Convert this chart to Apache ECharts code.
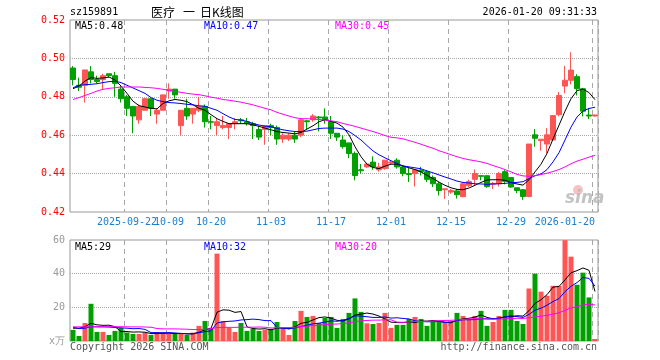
<!DOCTYPE html>
<html><head><meta charset="utf-8">
<script src="https://cdn.jsdelivr.net/npm/echarts@6/dist/echarts.min.js"></script>
<style>html,body{margin:0;padding:0;background:#fff}#c{width:660px;height:360px}</style>
</head><body><div id="c"></div>
<script>
const dates = ['2025-09-09','2025-09-10','2025-09-11','2025-09-12','2025-09-15','2025-09-16','2025-09-17','2025-09-18','2025-09-19','2025-09-22','2025-09-23','2025-09-24','2025-09-25','2025-09-26','2025-09-29','2025-09-30',
'2025-10-09','2025-10-10','2025-10-13','2025-10-14','2025-10-15','2025-10-16','2025-10-17','2025-10-20','2025-10-21','2025-10-22','2025-10-23','2025-10-24','2025-10-27','2025-10-28','2025-10-29','2025-10-30','2025-10-31',
'2025-11-03','2025-11-04','2025-11-05','2025-11-06','2025-11-07','2025-11-10','2025-11-11','2025-11-12','2025-11-13','2025-11-14','2025-11-17','2025-11-18','2025-11-19','2025-11-20','2025-11-21','2025-11-24','2025-11-25','2025-11-26','2025-11-27','2025-11-28',
'2025-12-01','2025-12-02','2025-12-03','2025-12-04','2025-12-05','2025-12-08','2025-12-09','2025-12-10','2025-12-11','2025-12-12','2025-12-15','2025-12-16','2025-12-17','2025-12-18','2025-12-19','2025-12-22','2025-12-23','2025-12-24','2025-12-25','2025-12-26','2025-12-29','2025-12-30','2025-12-31',
'2026-01-05','2026-01-06','2026-01-07','2026-01-08','2026-01-09','2026-01-12','2026-01-13','2026-01-14','2026-01-15','2026-01-16','2026-01-19','2026-01-20'];

const tickDates = ['2025-09-22','2025-10-09','2025-10-20','2025-11-03','2025-11-17','2025-12-01','2025-12-15','2025-12-29','2026-01-20'];
const tickLabels = ['2025-09-22','10-09','10-20','11-03','11-17','12-01','12-15','12-29','2026-01-20'];

const openP = [0.495,0.486,0.486,0.493,0.489,0.489,0.492,0.491,0.484,0.480,0.475,0.468,0.473,0.479,0.471,0.473,
0.483,0.484,0.465,0.474,0.471,0.473,0.475,0.467,0.465,0.464,0.464,0.466,0.468,0.467,0.466,0.463,0.463,
0.465,0.464,0.458,0.458,0.460,0.460,0.4675,0.468,0.4695,0.4695,0.467,0.461,0.4575,0.456,0.4505,0.442,0.4435,0.446,0.442,0.4426,
0.4455,0.447,0.4435,0.440,0.440,0.4418,0.441,0.438,0.4347,0.4316,0.4304,0.431,0.428,0.4337,0.437,0.4389,0.4389,0.4345,0.4347,0.441,0.438,0.4326,0.4316,
0.4281,0.4602,0.4572,0.4554,0.4575,0.4707,0.4856,0.4886,0.4905,0.4842,0.4705,0.470];
const closeP = [0.489,0.485,0.494,0.489,0.488,0.491,0.491,0.487,0.479,0.474,0.470,0.475,0.479,0.474,0.473,0.481,
0.484,0.481,0.473,0.470,0.474,0.475,0.467,0.4668,0.467,0.465,0.466,0.467,0.4675,0.466,0.465,0.459,0.465,
0.464,0.458,0.460,0.460,0.458,0.468,0.467,0.470,0.469,0.468,0.461,0.459,0.454,0.4505,0.439,0.4415,0.445,0.4435,0.4435,0.447,
0.446,0.4435,0.440,0.4395,0.442,0.441,0.437,0.4347,0.4312,0.4321,0.4312,0.429,0.4347,0.4358,0.440,0.4386,0.4333,0.4349,0.440,0.436,0.433,0.4312,0.4281,
0.4554,0.4584,0.4579,0.4602,0.4702,0.4807,0.4886,0.4939,0.4842,0.4725,0.470,0.4705];
const lowP = [0.486,0.483,0.477,0.487,0.487,0.484,0.490,0.480,0.477,0.470,0.461,0.466,0.473,0.470,0.466,0.473,
0.479,0.479,0.460,0.468,0.466,0.472,0.464,0.463,0.460,0.463,0.458,0.463,0.466,0.465,0.458,0.4575,0.455,
0.460,0.455,0.456,0.457,0.456,0.459,0.463,0.467,0.462,0.466,0.458,0.457,0.453,0.448,0.4365,0.440,0.443,0.442,0.441,0.442,
0.445,0.4426,0.4386,0.4356,0.4333,0.439,0.4356,0.433,0.4286,0.4268,0.4295,0.427,0.4277,0.433,0.4339,0.4365,0.4326,0.432,0.4333,0.4344,0.4326,0.4298,0.4263,
0.4277,0.454,0.4519,0.4505,0.4572,0.4698,0.4818,0.4865,0.4807,0.4698,0.4684,0.4698];
const highP = [0.496,0.490,0.494,0.496,0.491,0.492,0.492,0.493,0.486,0.481,0.475,0.476,0.479,0.479,0.474,0.481,
0.487,0.484,0.473,0.479,0.474,0.480,0.476,0.470,0.469,0.470,0.466,0.469,0.469,0.469,0.467,0.465,0.465,
0.466,0.465,0.461,0.461,0.462,0.469,0.468,0.471,0.470,0.474,0.470,0.461,0.460,0.456,0.4515,0.445,0.4456,0.449,0.4456,0.447,
0.447,0.448,0.4444,0.4435,0.442,0.4435,0.4418,0.439,0.4356,0.4321,0.432,0.432,0.4356,0.4368,0.4421,0.4389,0.4389,0.4356,0.4409,0.4418,0.4382,0.4326,0.432,
0.4554,0.4632,0.4579,0.4637,0.4702,0.4825,0.4961,0.5032,0.4918,0.4847,0.4742,0.4707];

const ma5 = [0.4842,0.4856,0.4882,0.4900,0.4896,0.4898,0.4903,0.4888,0.4856,0.4818,0.4777,0.4754,0.4747,0.4740,0.4737,0.4765,0.4779,0.4786,0.4782,0.4775,0.4758,0.4740,
0.4730,0.4707,0.4686,0.4672,0.4660,0.4660,0.4660,0.4660,0.4654,0.4646,0.4637,0.4628,0.4619,0.4614,0.4611,0.4607,0.4614,0.4632,0.4649,0.4670,0.4681,0.4672,
0.4663,0.4642,0.4602,0.4540,0.4488,0.4449,0.4432,0.4426,0.4439,0.4449,0.4449,0.4440,0.4430,0.4421,0.4409,0.4391,0.4374,0.4356,0.4339,0.4326,0.4318,0.4316,
0.4325,0.4339,0.4354,0.4367,0.4368,0.4368,0.4365,0.4353,0.4346,0.4340,0.4368,0.4409,0.4449,0.4505,0.4580,0.4652,0.4725,0.4790,0.4832,0.4840,0.4822,0.4785];
const ma10 = [0.4847,0.4860,0.4863,0.4865,0.4868,0.4874,0.4879,0.4881,0.4874,0.4860,0.4846,0.4832,0.4818,0.4796,0.4782,0.4775,0.4770,0.4768,0.4765,0.4761,0.4758,0.4753,
0.4751,0.4740,0.4730,0.4712,0.4695,0.4682,0.4679,0.4672,0.4661,0.4653,0.4647,0.4644,0.4635,0.4628,0.4623,0.4619,0.4619,0.4621,0.4628,0.4635,0.4637,0.4637,
0.4637,0.4632,0.4619,0.4598,0.4575,0.4546,0.4518,0.4498,0.4482,0.4467,0.4453,0.4440,0.4435,0.4430,0.4425,0.4414,0.4404,0.4393,0.4382,0.4372,0.4361,0.4354,
0.4351,0.4347,0.4346,0.4344,0.4346,0.4347,0.4349,0.4353,0.4354,0.4358,0.4374,0.4389,0.4398,0.4421,0.4461,0.4509,0.4575,0.4642,0.4695,0.4726,0.4739,0.4746];
const ma30 = [0.4786,0.4796,0.4807,0.4818,0.4830,0.4839,0.4844,0.4847,0.4851,0.4851,0.4851,0.4851,0.4849,0.4847,0.4844,0.4839,0.4833,0.4828,0.4823,0.4818,0.4814,0.4811,
0.4805,0.4798,0.4793,0.4786,0.4782,0.4777,0.4772,0.4765,0.4758,0.4749,0.4740,0.4732,0.4719,0.4709,0.4700,0.4691,0.4686,0.4686,0.4684,0.4682,0.4679,0.4675,
0.4670,0.4661,0.4654,0.4646,0.4637,0.4628,0.4619,0.4609,0.4598,0.4589,0.4586,0.4581,0.4572,0.4563,0.4553,0.4542,0.4532,0.4519,0.4509,0.4498,0.4488,0.4479,
0.4472,0.4467,0.4461,0.4453,0.4442,0.4432,0.4421,0.4409,0.4396,0.4388,0.4386,0.4389,0.4395,0.4402,0.4411,0.4421,0.4435,0.4451,0.4465,0.4475,0.4486,0.4495];

const vol = [6.6,3.0,10.7,22.1,5.4,5.4,3.6,6.0,7.8,5.0,4.2,4.2,5.0,3.6,5.0,5.0,4.2,4.2,4.2,3.6,5.0,9.0,11.9,7.8,51.9,11.9,7.8,5.4,10.7,6.0,
7.2,6.0,6.6,7.2,11.3,7.8,3.6,11.9,17.9,14.3,14.9,10.7,13.7,14.3,7.8,13.1,16.7,25.3,17.3,10.5,10.1,10.7,16.7,7.8,9.6,9.6,13.1,14.3,13.1,9.0,
11.3,11.3,11.3,11.3,16.7,14.9,13.1,14.9,17.9,9.0,11.3,14.9,18.5,18.5,11.9,10.1,31.2,40.0,29.3,26.9,32.8,32.8,59.9,50.1,33.4,40.6,25.9,1.2];
const volMa5 = [7.6,7.6,8.5,10.5,9.6,9.3,9.4,8.5,5.6,5.6,5.3,5.4,5.2,4.4,4.4,4.6,4.6,4.4,4.5,4.2,4.2,5.2,6.7,7.5,17.1,18.5,18.3,17.0,17.5,8.4,
7.4,7.1,7.3,6.6,7.7,7.8,7.3,8.4,10.5,11.1,12.5,13.9,14.3,13.6,12.3,11.9,13.1,15.4,16.0,16.6,16.0,14.8,13.1,11.2,11.0,10.9,11.4,10.9,11.9,11.8,
12.2,11.8,11.2,10.8,12.4,13.1,13.5,14.2,15.5,14.0,13.2,13.6,14.3,14.4,15.0,14.8,18.0,22.3,24.5,27.5,32.0,32.4,36.3,40.5,41.8,43.4,42.0,29.4];
const volMa10 = [8.2,7.4,7.6,8.5,8.4,8.4,8.3,8.0,7.8,7.6,7.3,7.4,6.9,5.0,5.0,4.9,5.0,4.8,4.5,4.3,4.4,4.9,5.6,6.0,10.7,11.4,11.7,11.9,12.5,12.7,
13.0,12.7,12.1,12.1,8.0,7.6,7.2,7.8,8.6,9.4,10.2,10.6,11.3,12.0,11.7,12.2,13.5,14.9,14.8,14.4,14.0,14.0,14.3,13.6,13.8,13.4,13.1,12.0,11.6,11.4,
11.5,11.6,11.0,11.4,12.1,12.6,12.6,12.7,13.2,13.2,13.2,13.5,14.3,15.0,14.5,14.0,15.8,18.3,19.5,21.3,23.4,25.2,29.3,32.5,34.7,37.7,37.2,32.6];
const volMa30 = [8.4,8.4,8.4,8.4,8.5,8.5,8.5,8.5,8.5,8.4,8.4,8.4,8.3,8.2,7.4,7.2,7.2,7.2,7.1,7.0,6.8,6.8,6.9,7.4,8.0,8.1,8.1,8.1,8.2,8.2,
8.2,8.3,8.2,7.7,7.9,8.0,8.0,8.2,8.5,8.8,9.2,9.4,9.7,10.0,10.1,10.4,10.8,11.5,12.0,12.2,12.4,12.4,12.6,12.6,11.2,11.1,11.3,11.6,11.6,11.7,
11.9,12.1,12.2,12.3,12.5,12.8,13.1,13.2,13.2,13.0,12.9,13.0,13.2,13.3,13.5,13.4,13.8,14.3,14.7,15.3,16.0,16.8,18.2,19.6,20.4,21.4,21.9,21.4];

const UP = '#ff5555', DOWN = '#00a000';
const MONO = '"DejaVu Sans Mono", "Liberation Mono", monospace';
const CJK = '"Noto Sans CJK SC", sans-serif';

const kData = dates.map((d, i) => [openP[i], closeP[i], lowP[i], highP[i]]);
const volData = dates.map((d, i) => ({ value: vol[i], itemStyle: { color: closeP[i] >= openP[i] ? UP : DOWN } }));
const isTick = (i, v) => tickDates.indexOf(v) >= 0;
// labels split over two axes so that the overlapping first label is not dropped
const isLabelA = (i, v) => tickDates.indexOf(v) >= 1;
const isLabelB = (i, v) => v === tickDates[0];
const labelFmt = v => tickLabels[tickDates.indexOf(v)];
const splitStyle = { show: true, interval: isTick, lineStyle: { color: '#a8a8a8', type: [5, 4], width: 1 } };
const labelBase = { color: '#1a7fd0', fontFamily: MONO, fontSize: 10, margin: 5, hideOverlap: false, formatter: labelFmt };

function txt(text, x, y, color, font, align) {
  return { type: 'text', silent: true, z: 100, style: { text: text, x: x, y: y, fill: color, font: font, textAlign: align || 'left', textVerticalAlign: 'middle' } };
}
const lineS = (name, data, color, xi, yi) => ({
  type: 'line', name: name, data: data, xAxisIndex: xi, yAxisIndex: yi, symbol: 'none', showSymbol: false,
  smooth: false, z: 5, lineStyle: { color: color, width: 1 }, itemStyle: { color: color }, animation: false, silent: true
});

const chart = echarts.init(document.getElementById('c'), null, { renderer: 'canvas' });
chart.setOption({
  animation: false,
  backgroundColor: '#ffffff',
  grid: [
    { left: 70, top: 20, width: 528, height: 192, show: true, borderColor: '#999999', borderWidth: 1, backgroundColor: 'transparent' },
    { left: 70, top: 240, width: 528, height: 101, show: true, borderColor: '#999999', borderWidth: 1, backgroundColor: 'transparent' }
  ],
  xAxis: [
    { type: 'category', gridIndex: 0, data: dates, boundaryGap: true, position: 'bottom',
      axisLine: { show: false }, axisTick: { show: false },
      axisLabel: Object.assign({ interval: isLabelA, alignMaxLabel: 'right' }, labelBase),
      splitLine: splitStyle },
    { type: 'category', gridIndex: 1, data: dates, boundaryGap: true,
      axisLine: { show: false }, axisTick: { show: false }, axisLabel: { show: false },
      splitLine: splitStyle },
    { type: 'category', gridIndex: 0, data: dates, boundaryGap: true, position: 'bottom', offset: 0,
      axisLine: { show: false }, axisTick: { show: false },
      axisLabel: Object.assign({ interval: isLabelB }, labelBase),
      splitLine: { show: false } }
  ],
  yAxis: [
    { type: 'value', gridIndex: 0, min: 0.42, max: 0.52, interval: 0.02, scale: true,
      axisLine: { show: false }, axisTick: { show: false },
      axisLabel: { color: '#ff0000', fontFamily: MONO, fontSize: 10, margin: 5, formatter: v => v.toFixed(2) },
      splitLine: { show: true, showMinLine: false, showMaxLine: false, lineStyle: { color: '#a8a8a8', type: 'dotted', width: 1 } } },
    { type: 'value', gridIndex: 1, min: 0, max: 60, interval: 20,
      axisLine: { show: false }, axisTick: { show: false },
      axisLabel: { color: '#999999', fontFamily: MONO, fontSize: 10, margin: 5, formatter: v => v === 0 ? 'x万' : String(v) },
      splitLine: { show: true, showMinLine: false, showMaxLine: false, lineStyle: { color: '#a8a8a8', type: 'dotted', width: 1 } } }
  ],
  series: [
    { type: 'candlestick', name: 'K', data: kData, xAxisIndex: 0, yAxisIndex: 0, barWidth: 5, z: 3, silent: true,
      itemStyle: { color: UP, color0: DOWN, borderColor: UP, borderColor0: DOWN, borderWidth: 1 } },
    lineS('MA5', ma5, '#000000', 0, 0),
    lineS('MA10', ma10, '#0000ff', 0, 0),
    lineS('MA30', ma30, '#ff00ff', 0, 0),
    { type: 'bar', name: 'VOL', data: volData, xAxisIndex: 1, yAxisIndex: 1, barWidth: 5, z: 3, silent: true },
    lineS('VMA5', volMa5, '#000000', 1, 1),
    lineS('VMA10', volMa10, '#0000ff', 1, 1),
    lineS('VMA30', volMa30, '#ff00ff', 1, 1)
  ],
  graphic: [
    txt('sz159891', 70, 12.5, '#000000', '10px ' + MONO),
    txt('医疗', 151, 12.5, '#000000', '12px ' + CJK),
    txt('一', 183, 12.5, '#000000', '12px ' + CJK),
    txt('日K线图', 200, 12.5, '#000000', '12px ' + CJK),
    txt('2026-01-20 09:31:33', 597, 12.5, '#000000', '10px ' + MONO, 'right'),
    txt('MA5:0.48', 75, 26, '#000000', '10px ' + MONO),
    txt('MA10:0.47', 204, 26, '#0000ff', '10px ' + MONO),
    txt('MA30:0.45', 335, 26, '#ff00ff', '10px ' + MONO),
    txt('MA5:29', 75, 247, '#000000', '10px ' + MONO),
    txt('MA10:32', 204, 247, '#0000ff', '10px ' + MONO),
    txt('MA30:20', 335, 247, '#ff00ff', '10px ' + MONO),
    txt('Copyright 2026 SINA.COM', 70, 347, '#555555', '10px ' + MONO),
    txt('http://finance.sina.com.cn', 597, 347, '#555555', '10px ' + MONO, 'right'),
    { type: 'circle', silent: true, z: 90, shape: { cx: 578, cy: 190, r: 5 }, style: { fill: 'rgba(235,120,120,0.45)' } },
    txt('sina', 565, 199, 'rgba(185,185,185,0.85)', 'italic bold 17px "DejaVu Sans", sans-serif')
  ]
});
</script>
</body></html>
